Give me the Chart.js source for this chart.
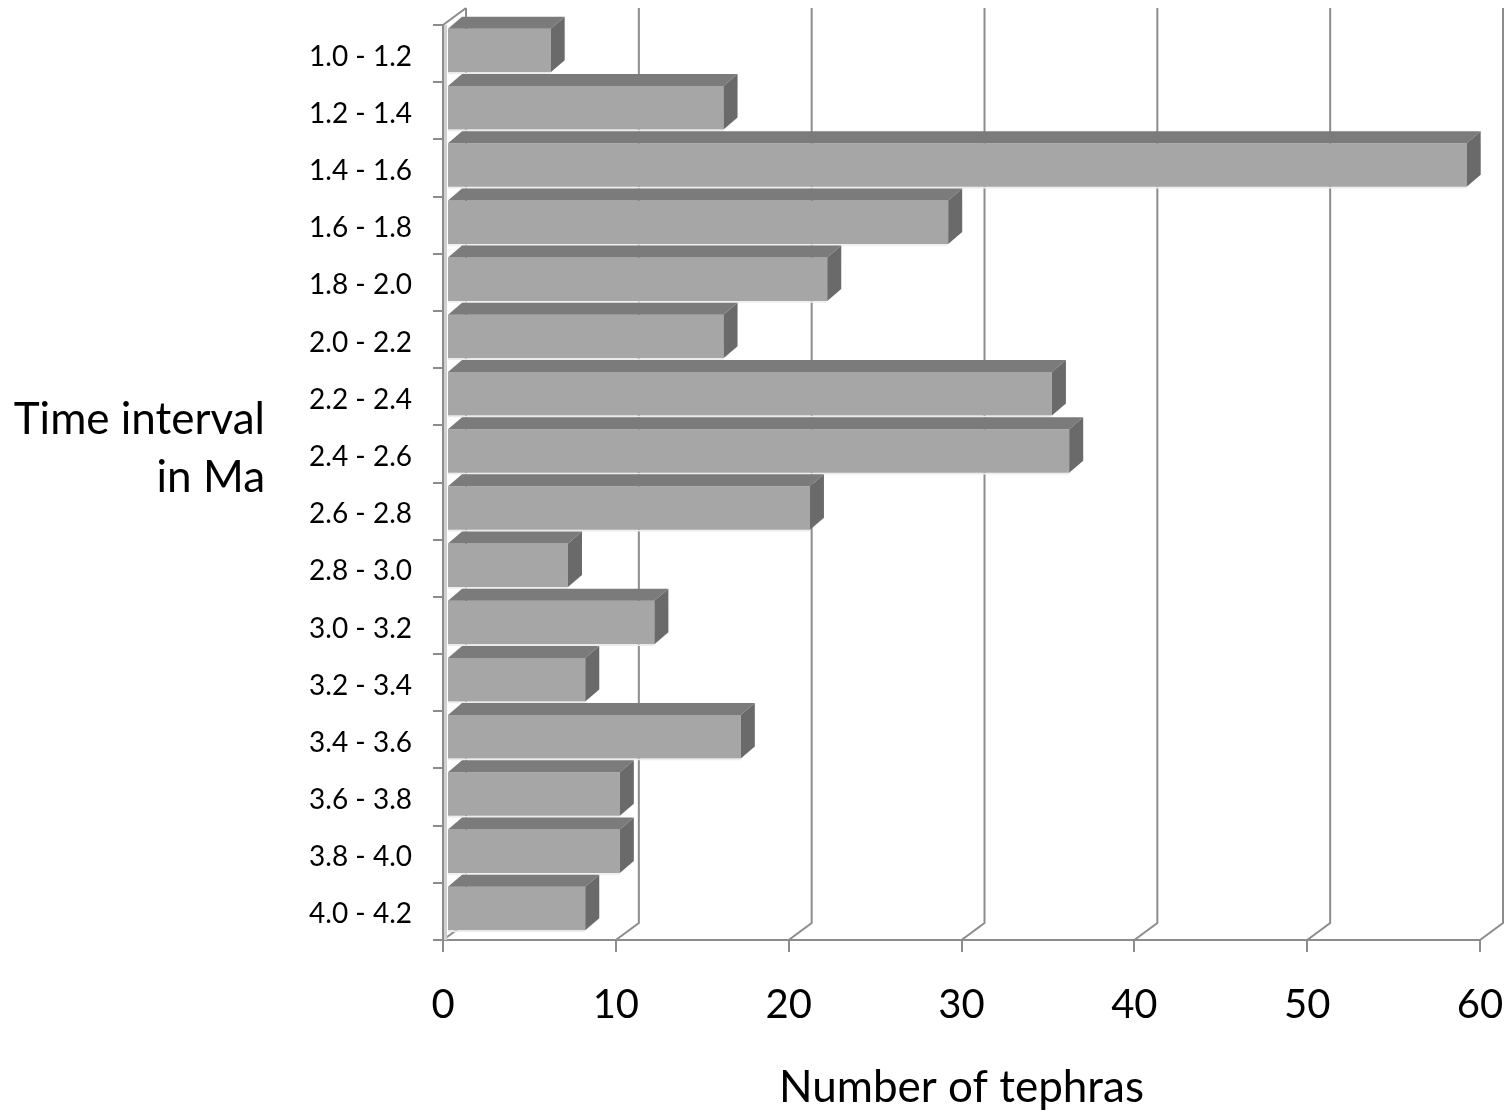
<!DOCTYPE html>
<html>
<head>
<meta charset="utf-8">
<script src="https://cdn.jsdelivr.net/npm/chart.js@4/dist/chart.umd.min.js"></script>
<style>
  html, body { margin: 0; padding: 0; background: #fff; }
  canvas { display: block; }
</style>
</head>
<body>
<canvas id="tephras" width="1512" height="1116"></canvas>
<script>
const intervals = ['1.0 - 1.2', '1.2 - 1.4', '1.4 - 1.6', '1.6 - 1.8', '1.8 - 2.0', '2.0 - 2.2',
  '2.2 - 2.4', '2.4 - 2.6', '2.6 - 2.8', '2.8 - 3.0', '3.0 - 3.2', '3.2 - 3.4',
  '3.4 - 3.6', '3.6 - 3.8', '3.8 - 4.0', '4.0 - 4.2'];
const tephraCounts = [6, 16, 59, 29, 22, 16, 35, 36, 21, 7, 12, 8, 17, 10, 10, 8];
const countTicks = [0, 10, 20, 30, 40, 50, 60];
const yTitleLines = ['Time interval', 'in Ma'];
const xTitle = 'Number of tephras';

const FONT = 'Lato';
const gridColor = '#8c8c8c';
const wall = { dx: 23, dy: -17 };
const bar3d = { dx: 14, dy: -12 };
// bars sit a bit behind the front plane
const barShift = { dx: 4, dy: -3 };

// fake 3d: back wall gridlines, then top/side faces of each bar
const depthPlugin = {
  id: 'depth',
  beforeDatasetsDraw(chart) {
    const { ctx, chartArea: { left, top, bottom }, scales: { x } } = chart;
    ctx.save();
    ctx.strokeStyle = gridColor;
    ctx.lineWidth = 2;
    ctx.beginPath();
    countTicks.forEach(v => {
      const px = x.getPixelForValue(v);
      ctx.moveTo(px, bottom);
      ctx.lineTo(px + wall.dx, bottom + wall.dy);
      ctx.lineTo(px + wall.dx, top + wall.dy);
    });
    ctx.moveTo(left, top);
    ctx.lineTo(left + wall.dx, top + wall.dy);
    ctx.stroke();
    ctx.fillStyle = '#d0d0d0';
    ctx.fillRect(left + 1, top, 3, bottom - top);
    ctx.restore();
    ctx.save();
    ctx.translate(barShift.dx, barShift.dy);
  },
  afterDatasetsDraw(chart) {
    const { ctx } = chart;
    const meta = chart.getDatasetMeta(0);
    meta.data.forEach(el => {
      const { x: xr, y, height, base } = el.getProps(['x', 'y', 'height', 'base'], true);
      const t = y - height / 2;
      const b = y + height / 2;
      const xl = base;
      ctx.fillStyle = '#7b7b7b';
      ctx.beginPath();
      ctx.moveTo(xl, t);
      ctx.lineTo(xl + bar3d.dx, t + bar3d.dy);
      ctx.lineTo(xr + bar3d.dx, t + bar3d.dy);
      ctx.lineTo(xr, t);
      ctx.closePath();
      ctx.fill();
      ctx.fillStyle = '#6a6a6a';
      ctx.beginPath();
      ctx.moveTo(xr, t);
      ctx.lineTo(xr + bar3d.dx, t + bar3d.dy);
      ctx.lineTo(xr + bar3d.dx, b + bar3d.dy);
      ctx.lineTo(xr, b);
      ctx.closePath();
      ctx.fill();
      ctx.strokeStyle = '#ececec';
      ctx.lineWidth = 1.5;
      ctx.beginPath();
      ctx.moveTo(xl, b + 1);
      ctx.lineTo(xr, b + 1);
      ctx.stroke();
    });
    ctx.restore();
  },
  afterDraw(chart) {
    const { ctx } = chart;
    ctx.save();
    ctx.fillStyle = '#000';
    ctx.font = `44px ${FONT}`;
    ctx.textAlign = 'right';
    ctx.textBaseline = 'middle';
    ctx.fillText(yTitleLines[0], 265, 420);
    ctx.fillText(yTitleLines[1], 265, 478);
    ctx.restore();
  }
};

const ctx = document.getElementById('tephras');

new Chart(ctx, {
  type: 'bar',
  data: {
    labels: intervals,
    datasets: [{
      label: 'Number of tephras',
      data: tephraCounts,
      backgroundColor: '#a6a6a6',
      borderWidth: 0,
      categoryPercentage: 0.76,
      barPercentage: 1
    }]
  },
  options: {
    indexAxis: 'y',
    responsive: false,
    animation: false,
    layout: { padding: { top: 25, right: 32, left: 0, bottom: 0 } },
    plugins: {
      legend: { display: false },
      tooltip: { enabled: false }
    },
    scales: {
      x: {
        min: 0,
        max: 60,
        afterFit(scale) {
          scale.height = 176;
          scale.paddingLeft = 0;
          scale.paddingRight = 0;
        },
        afterBuildTicks(scale) { scale.ticks = countTicks.map(v => ({ value: v })); },
        grid: { drawOnChartArea: false, drawTicks: true, tickLength: 12, color: gridColor, lineWidth: 2 },
        border: { color: gridColor, width: 2 },
        ticks: { color: '#000', font: { family: FONT, size: 40 }, padding: 29 },
        title: {
          display: true,
          text: xTitle,
          color: '#000',
          font: { family: FONT, size: 44 },
          padding: { top: 0, bottom: 2 }
        }
      },
      y: {
        afterFit(scale) {
          scale.width = 443;
          scale.paddingTop = 0;
          scale.paddingBottom = 0;
        },
        grid: { drawOnChartArea: false, drawTicks: true, tickLength: 10, color: gridColor, lineWidth: 2 },
        border: { color: gridColor, width: 2 },
        ticks: { color: '#000', font: { family: FONT, size: 28 }, padding: 21, labelOffset: 3 }
      }
    }
  },
  plugins: [depthPlugin]
});
</script>
</body>
</html>
